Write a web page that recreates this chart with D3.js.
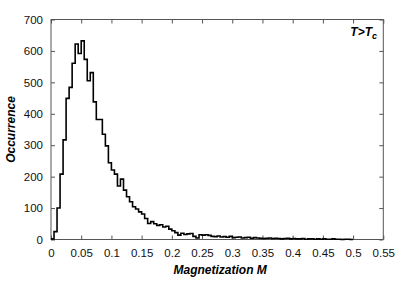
<!DOCTYPE html>
<html>
<head>
<meta charset="utf-8">
<script src="https://cdn.jsdelivr.net/npm/d3@7"></script>
<style>
html,body{margin:0;padding:0;background:#fff;}
svg{display:block;font-family:"Liberation Sans",Arial,Helvetica,sans-serif;}
</style>
</head>
<body>
<svg id="chart" width="403" height="282"></svg>
<script>
// Histogram of magnetization M (bin width 0.005, starting at 0)
const binWidth = 0.005;
const counts = [
  2, 25, 100, 208, 317, 449, 484, 561, 622, 592,
  632, 573, 505, 531, 438, 382, 382, 335, 298, 244,
  221, 208, 170, 192, 157, 136, 120, 104, 97, 88,
  81, 67, 51, 57, 50, 45, 47, 40, 42, 33,
  28, 22, 14, 20, 16, 18, 19, 10, 5, 15,
  14, 15, 13, 10, 9, 11, 8, 9, 7, 10,
  6, 7, 8, 5, 6, 7, 4, 6, 5, 4,
  3, 4, 5, 3, 4, 3, 2, 3, 4, 2,
  3, 2, 2, 3, 1, 2, 2, 1, 2, 1,
  2, 1, 1, 2, 1, 1, 0, 1, 1, 0
];
const xTicks = [0, 0.05, 0.1, 0.15, 0.2, 0.25, 0.3, 0.35, 0.4, 0.45, 0.5, 0.55];
const yTicks = [0, 100, 200, 300, 400, 500, 600, 700];
const xTitle = "Magnetization M";
const yTitle = "Occurrence";

const svg = d3.select("#chart");
const L = 51, R = 383.3, T = 19.5, B = 239.5;
const x = d3.scaleLinear().domain([0, 0.55]).range([L, R]);
const y = d3.scaleLinear().domain([0, 700]).range([B, T]);

const axisColor = "#555";
const tickLen = 4;

// frame
svg.append("rect").attr("x", L).attr("y", T).attr("width", R - L).attr("height", B - T)
  .attr("fill", "none").attr("stroke", axisColor).attr("stroke-width", 1);

// bottom axis
const gx = svg.append("g").attr("transform", `translate(0,${B})`)
  .call(d3.axisBottom(x).tickValues(xTicks).tickSize(-tickLen).tickPadding(9)
    .tickFormat(d => d3.format("")(+d.toFixed(2))));
const gxTop = svg.append("g").attr("transform", `translate(0,${T})`)
  .call(d3.axisTop(x).tickValues(xTicks).tickSize(-tickLen).tickFormat(""));
const gy = svg.append("g").attr("transform", `translate(${L},0)`)
  .call(d3.axisLeft(y).tickValues(yTicks).tickSize(-tickLen).tickPadding(8));
const gyR = svg.append("g").attr("transform", `translate(${R},0)`)
  .call(d3.axisRight(y).tickValues(yTicks).tickSize(-tickLen).tickFormat(""));

[gx, gxTop, gy, gyR].forEach(g => {
  g.select(".domain").remove();
  g.selectAll(".tick line").attr("stroke", axisColor);
  g.selectAll(".tick text").attr("fill", "#111").style("font-size", "11.5px")
    .style("font-family", "'Liberation Sans', Arial, sans-serif");
});

// histogram steps
const pts = counts.map((c, i) => [i * binWidth, c]);
pts.push([counts.length * binWidth, counts[counts.length - 1]]);
const line = d3.line().x(d => x(d[0])).y(d => y(d[1])).curve(d3.curveStepAfter);
svg.append("path").datum(pts).attr("d", line)
  .attr("fill", "none").attr("stroke", "#000").attr("stroke-width", 1.6)
  .attr("stroke-linejoin", "miter");

// titles
svg.append("text").attr("x", (L + R) / 2 + 3).attr("y", 274)
  .attr("text-anchor", "middle").style("font-size", "12px")
  .style("font-weight", "bold").style("font-style", "italic").text(xTitle);
svg.append("text").attr("transform", `translate(15,${(T + B) / 2}) rotate(-90)`)
  .attr("text-anchor", "middle").style("font-size", "12px")
  .style("font-weight", "bold").style("font-style", "italic").text(yTitle);

// annotation T>T_c
const ann = svg.append("text").attr("x", 377).attr("y", 36).attr("text-anchor", "end")
  .style("font-size", "12px").style("font-weight", "bold").style("font-style", "italic");
ann.append("tspan").text("T>T");
ann.append("tspan").attr("dy", 3).style("font-size", "9px").text("c");
</script>
</body>
</html>
